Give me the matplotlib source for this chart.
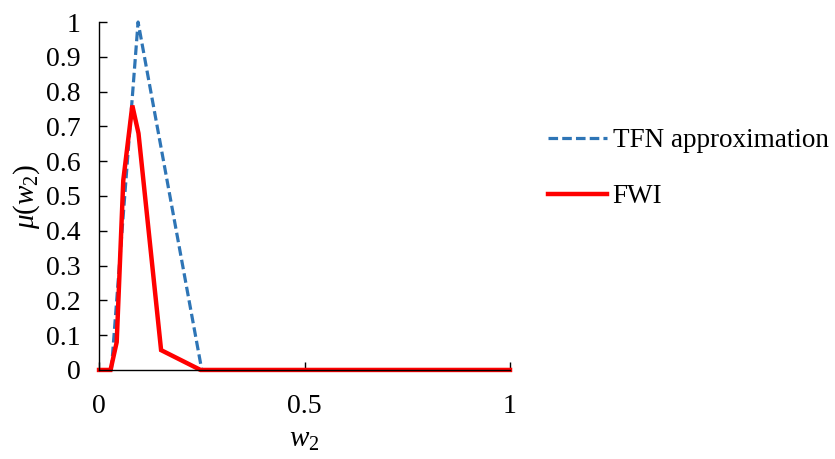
import numpy as np
import matplotlib.pyplot as plt

plt.rcParams['font.family'] = ['Liberation Serif', 'DejaVu Serif']
plt.rcParams['mathtext.fontset'] = 'custom'
plt.rcParams['mathtext.it'] = 'Liberation Serif:italic'
plt.rcParams['mathtext.rm'] = 'Liberation Serif'

# TFN approximation (triangular)
tfn_x = [0.03, 0.095, 0.25]
tfn_y = [0.0, 1.0, 0.0]

# FWI membership
fwi_x = [0.0, 0.028, 0.043, 0.059, 0.081, 0.096, 0.151, 0.247, 1.0]
fwi_y = [0.0, 0.0, 0.08, 0.545, 0.76, 0.68, 0.057, 0.0, 0.0]

xticks = [0, 0.5, 1]
xtick_labels = ['0', '0.5', '1']
yticks = [0, 0.1, 0.2, 0.3, 0.4, 0.5, 0.6, 0.7, 0.8, 0.9, 1.0]
ytick_labels = ['0', '0.1', '0.2', '0.3', '0.4', '0.5', '0.6', '0.7', '0.8', '0.9', '1']

fig = plt.figure(figsize=(8.35, 4.59), dpi=100)
ax = fig.add_axes([0.1186, 0.194, 0.4922, 0.758])

ax.plot(tfn_x, tfn_y, color='#2E75B6', lw=2.3, ls=(0, (3.0, 1.3)),
        dash_capstyle='butt', label='TFN approximation', clip_on=False)
ax.plot(fwi_x, fwi_y, color='#FF0000', lw=3.2, label='FWI', clip_on=False,
        solid_joinstyle='miter')

ax.set_xlim(0, 1)
ax.set_ylim(0, 1)
ax.set_xticks(xticks)
ax.set_xticklabels(xtick_labels)
ax.set_yticks(yticks)
ax.set_yticklabels(ytick_labels)
ax.tick_params(direction='in', length=6, width=1, labelsize=20)
ax.tick_params(axis='y', pad=13)
ax.tick_params(axis='x', pad=17)
for s in ['top', 'right']:
    ax.spines[s].set_visible(False)
for s in ['left', 'bottom']:
    ax.spines[s].set_linewidth(1)

ax.set_xlabel('$w_2$', fontsize=21, labelpad=6)
ax.set_ylabel('$\\mu(w_2)$', fontsize=21, labelpad=3)

fig.legend(loc='center left', bbox_to_anchor=(0.656, 0.632), frameon=False,
           fontsize=19.5, borderpad=0, borderaxespad=0, handlelength=2.2,
           handletextpad=0.2, labelspacing=1.15)

fig.savefig('out.png', dpi=100)
